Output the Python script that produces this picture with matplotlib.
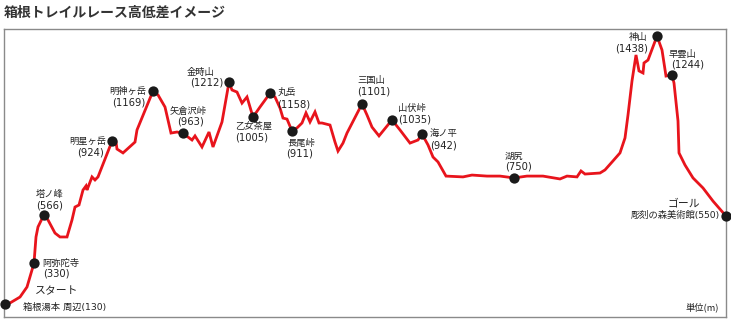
import numpy as np
import matplotlib
matplotlib.use("Agg")
import matplotlib.pyplot as plt

plt.rcParams['font.family'] = ['Noto Sans CJK JP', 'DejaVu Sans']

# ---- data: course profile (distance in chart units, elevation in m) ----
distance = [0, 5, 15, 22, 27, 29, 31, 33, 39, 43, 50, 55, 62, 67, 70, 74, 78, 81, 82, 87,
            90, 93, 107, 111, 112, 118, 130, 132, 148, 153, 160, 166, 172, 178, 187, 190,
            197, 204, 208, 217, 224, 227, 232, 237, 242, 248, 255, 265, 270, 275, 278, 282,
            287, 292, 297, 301, 305, 310, 314, 317, 325, 330, 333, 338, 342, 357, 362, 367,
            374, 387, 395, 405, 413, 417, 423, 428, 433, 441, 458, 467, 482, 495, 509, 522,
            538, 555, 562, 572, 576, 580, 595, 600, 608, 615, 620, 623, 627, 631, 634, 638,
            639, 643, 652, 657, 661, 667, 669, 673, 674, 680, 688, 698, 708, 721]
elevation = [130, 135, 164, 213, 296, 330, 457, 506, 566, 540, 476, 457, 457, 540, 603, 613,
             686, 706, 686, 750, 735, 750, 924, 920, 886, 867, 920, 979, 1169, 1150, 1091,
             964, 969, 963, 930, 950, 896, 969, 896, 1018, 1212, 1174, 1164, 1110, 1140,
             1042, 1091, 1158, 1140, 1086, 1037, 1032, 974, 989, 1013, 1062, 1018, 1067,
             1013, 1013, 1003, 920, 876, 915, 964, 1106, 1052, 993, 950, 1028, 979, 915,
             930, 959, 906, 847, 823, 754, 750, 759, 754, 754, 745, 754, 754, 740, 754,
             750, 779, 764, 769, 784, 828, 867, 940, 1052, 1218, 1345, 1267, 1257, 1306,
             1320, 1437, 1369, 1242, 1247, 1208, 1023, 867, 808, 745, 696, 632, 559]

# ---- landmarks ----
landmark_names = ['阿弥陀寺', '塔ノ峰', '明星ヶ岳', '明神ヶ岳', '矢倉沢峠', '金時山', '乙女茶屋',
                  '丸岳', '長尾峠', '三国山', '山伏峠', '海ノ平', '湖尻', '神山', '早雲山']
landmark_dist = [29, 39, 107, 148, 178, 224, 248, 265, 287, 357, 387, 417, 509, 652, 667]
landmark_elev = [330, 566, 924, 1169, 963, 1212, 1005, 1158, 911, 1101, 1035, 942, 750, 1438, 1244]

start_name, start_place, start_elev = 'スタート', '箱根湯本 周辺', 130
goal_name, goal_place, goal_elev = 'ゴール', '彫刻の森美術館', 550
title = '箱根トレイルレース高低差イメージ'
unit_label = '単位(m)'

# ---- layout (pixel offsets from the dot: name (ha, dx, dy), value (ha, dx, dy)) ----
label_layout = [
    (('left', 8, 0), ('left', 9, -11)),        # 阿弥陀寺
    (('center', 6, 20), ('center', 6, 9)),     # 塔ノ峰
    (('right', -6, 0), ('right', -8, -11)),    # 明星ヶ岳
    (('right', -7, 0), ('right', -8, -11)),    # 明神ヶ岳
    (('center', 5, 22), ('center', 7, 12)),    # 矢倉沢峠
    (('left', -42, 10), ('right', -6, 0)),     # 金時山
    (('left', -18, -9), ('left', -18, -20)),   # 乙女茶屋
    (('left', 8, 1), ('left', 7, -11)),        # 丸岳
    (('left', -5, -12), ('left', -6, -23)),    # 長尾峠
    (('left', -5, 23), ('left', -5, 12)),      # 三国山
    (('left', 6, 11), ('left', 6, 0)),         # 山伏峠
    (('left', 8, 1), ('left', 8, -11)),        # 海ノ平
    (('left', -9, 22), ('left', -9, 11)),      # 湖尻
    (('right', -10, -1), ('right', -9, -12)),  # 神山
    (('left', -3, 21), ('left', -1, 11)),      # 早雲山
]

W, H = 731, 322
fig = plt.figure(figsize=(W / 100, H / 100), dpi=100)
ax = fig.add_axes([4 / W, (H - 316.5) / H, 721.5 / W, 288 / H])
ax.set_xlim(-1, 720.5)
ax.set_ylim(69, 1474)
ax.set_xticks([])
ax.set_yticks([])
for s in ax.spines.values():
    s.set_color('#8a8a8a')
    s.set_linewidth(1.0)

red = '#e8141c'
dot = '#1a1a1a'
ax.plot(distance, elevation, color=red, lw=2.0, solid_joinstyle='miter', zorder=2, clip_on=False)

def prof(x):
    return float(np.interp(x, distance, elevation))

xs = [distance[0]] + landmark_dist + [distance[-1]]
ys = [prof(x) for x in xs]
ax.scatter(xs, ys, s=55, color=dot, zorder=3, clip_on=False, linewidths=0)

fs = 6.7
vfs = 7.2
tc = '#222222'
num_family = ['DejaVu Sans', 'Noto Sans CJK JP']
for name, d, e, lay in zip(landmark_names, landmark_dist, landmark_elev, label_layout):
    y = prof(d)
    (ha1, dx1, dy1), (ha2, dx2, dy2) = lay
    ax.annotate(name, (d, y), xytext=(dx1, dy1), textcoords='offset pixels',
                ha=ha1, va='center', fontsize=fs, color=tc, annotation_clip=False)
    ax.annotate(f'({e})', (d, y), xytext=(dx2, dy2), textcoords='offset pixels',
                ha=ha2, va='center', fontsize=vfs, color=tc, family=num_family,
                annotation_clip=False)

# start / goal
p0 = (distance[0], prof(distance[0]))
p1 = (distance[-1], prof(distance[-1]))
ax.annotate(start_name, p0, xytext=(30, 13), textcoords='offset pixels',
            ha='left', va='center', fontsize=7.8, color=tc, annotation_clip=False)
ax.annotate(f'{start_place}({start_elev})', p0, xytext=(18, -3),
            textcoords='offset pixels', ha='left', va='center', fontsize=fs, color=tc,
            family=num_family, annotation_clip=False)
ax.annotate(goal_name, p1, xytext=(-26, 13), textcoords='offset pixels',
            ha='right', va='center', fontsize=7.8, color=tc, annotation_clip=False)
ax.annotate(f'{goal_place}({goal_elev})', p1, xytext=(-6, 1),
            textcoords='offset pixels', ha='right', va='center', fontsize=fs, color=tc,
            family=num_family, annotation_clip=False)

ax.text(0.991, 0.033, unit_label, transform=ax.transAxes, ha='right', va='center',
        fontsize=fs, color=tc)

fig.text(4 / W, 1 - 13 / H, title, ha='left', va='center', fontsize=10, fontweight='bold',
         color='#333333')

fig.savefig('out.png', dpi=100)
